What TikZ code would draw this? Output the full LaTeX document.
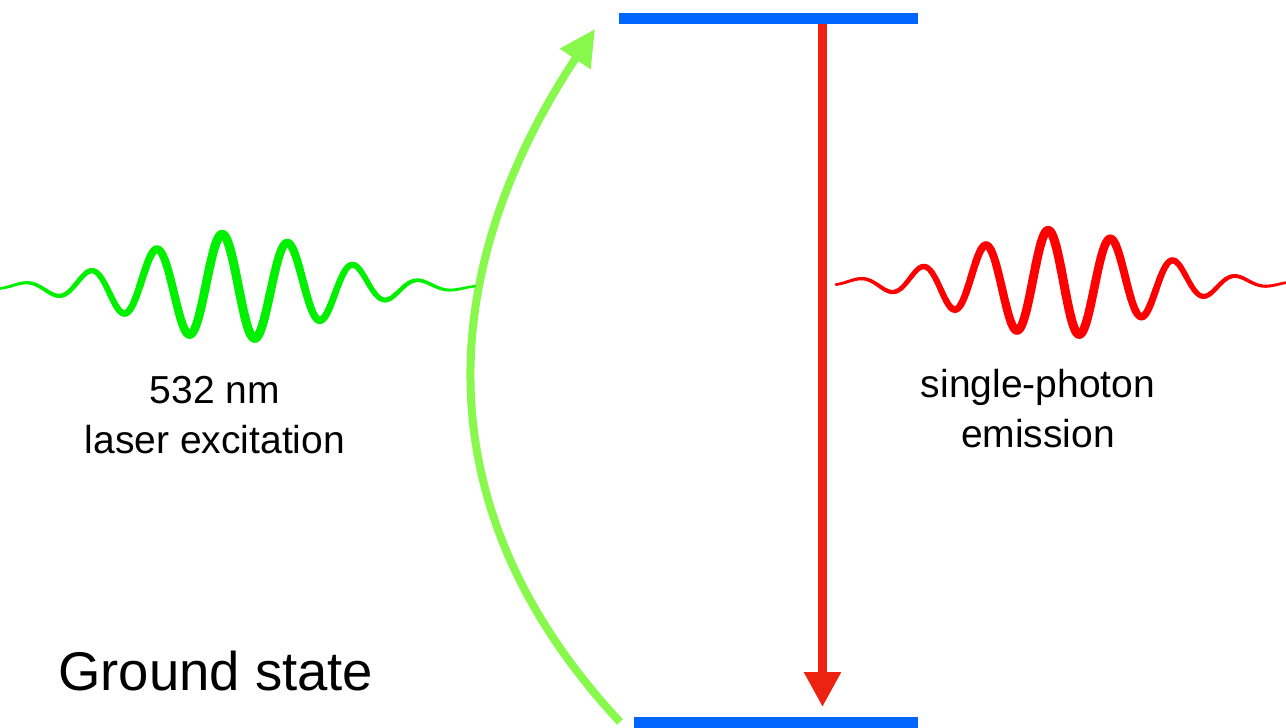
\documentclass[tikz,border=0pt]{standalone}
\usepackage{fontspec}
\setmainfont{Liberation Sans}
\usetikzlibrary{arrows.meta}
\definecolor{levelblue}{HTML}{0066FF}
\definecolor{emitred}{HTML}{EE2211}
\definecolor{excgreen}{HTML}{88F94C}
\definecolor{wavegreen}{HTML}{00F000}
\definecolor{wavered}{HTML}{FF0000}
\begin{document}
\begin{tikzpicture}[x=1pt,y=-1pt,
  level/.style={line width=11pt, draw=levelblue},
  lbl/.style={inner sep=0pt, anchor=base, font=\fontsize{39}{47}\selectfont},
  biglbl/.style={inner sep=0pt, anchor=base west, font=\fontsize{54.5}{60}\selectfont},
  wavestroke/.style={line cap=round, line join=round}]
\useasboundingbox (0,0) rectangle (1286,728);

% energy levels
\coordinate (exl) at (619,18.5);
\coordinate (exr) at (918,18.5);
\coordinate (gnl) at (634,722.5);
\coordinate (gnr) at (918,722.5);
\draw[level] (exl) -- (exr);
\draw[level] (gnl) -- (gnr);

% emission arrow
\coordinate (rs) at (822.5,24);
\coordinate (rt) at (822.5,707);
\draw[emitred, line width=8.5pt, -{Triangle[length=35pt,width=35pt]}] (rs) -- (rt);

% excitation arrow
\coordinate (gs) at (620,722);
\coordinate (gt) at (595,29);
\draw[excgreen, line width=8pt, -{Triangle[length=36pt,width=35pt]}]
  (gs) .. controls (404.6,490.7) and (451.2,246) .. (gt);

% green wave packet
\foreach \i in {0,...,94} {
  \pgfmathsetmacro\xa{5*\i}
  \pgfmathsetmacro\xb{5*\i+5}
  \pgfmathsetmacro\w{1.3+7.7*exp(-(((\xa+2.5-232)/175)^2))}
  \draw[wavegreen, wavestroke, line width=\w pt]
    plot[domain=\xa:\xb, samples=6] (\x, {287-53*exp(-(((\x-232)/130)^2))*cos((\x-222)/66*360)});
}

% red wave packet
\foreach \i in {0,...,89} {
  \pgfmathsetmacro\xa{836+5*\i}
  \pgfmathsetmacro\xb{836+5*\i+5}
  \pgfmathsetmacro\w{1.3+7.7*exp(-(((\xa+2.5-1058)/170)^2))}
  \draw[wavered, wavestroke, line width=\w pt]
    plot[domain=\xa:\xb, samples=6] (\x, {283-53*exp(-(((\x-1058)/125)^2))*cos((\x-1048)/63*360)});
}

% labels
\node[lbl] (l1a) at (215,403) {532 nm};
\node[lbl] (l1b) at (215,453) {laser excitation};
\node[lbl] (l2a) at (1038,397) {single-photon};
\node[lbl] (l2b) at (1038,447) {emission};
\node[biglbl] (gs-label) at (58,690) {Ground state};
\end{tikzpicture}
\end{document}
